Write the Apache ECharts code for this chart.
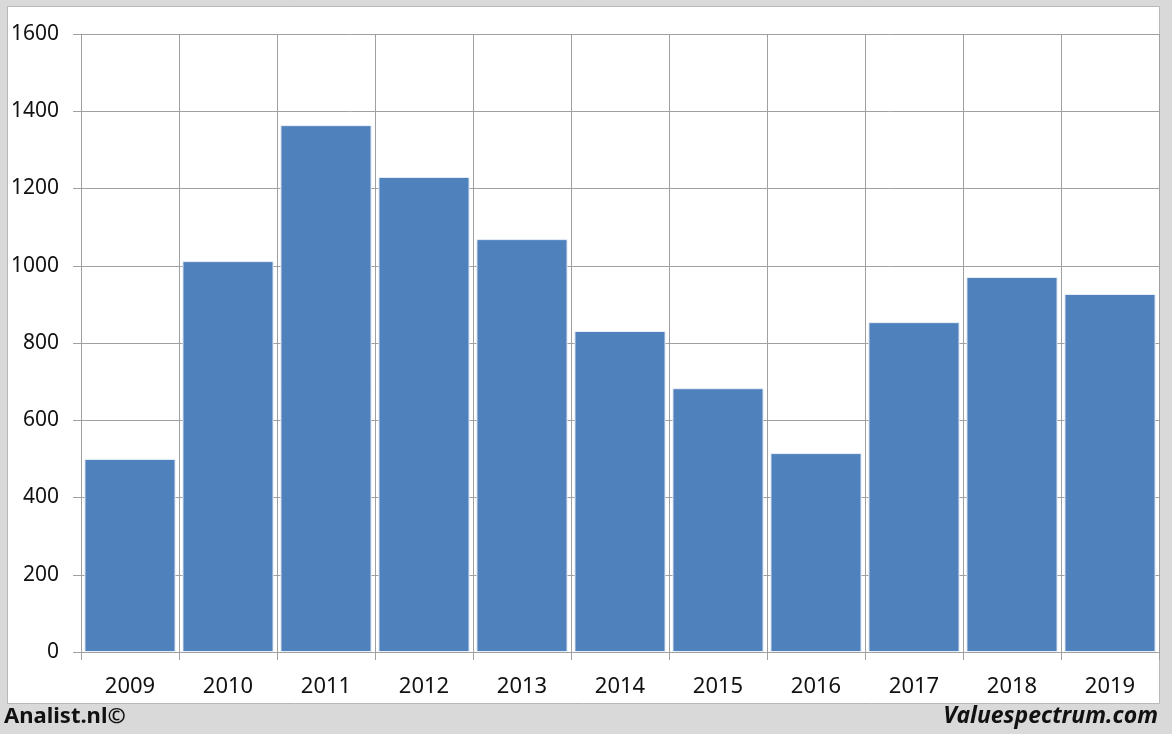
<!DOCTYPE html>
<html><head><meta charset="utf-8">
<script src="https://cdn.jsdelivr.net/npm/echarts@6/dist/echarts.min.js"></script>
<style>html,body{margin:0;padding:0;background:#d9d9d9;}#c{width:1172px;height:734px;}</style>
</head><body><div id="c"></div>
<script>
const categories = ['2009','2010','2011','2012','2013','2014','2015','2016','2017','2018','2019'];
const values = [500, 1012, 1364, 1230, 1069, 831, 683, 515, 854, 971, 927];
const yTicks = [0, 200, 400, 600, 800, 1000, 1200, 1400, 1600];

const chart = echarts.init(document.getElementById('c'), null, {renderer: 'canvas'});
const font = 'Noto Sans, DejaVu Sans, sans-serif';
chart.setOption({
  animation: false,
  backgroundColor: '#d9d9d9',
  graphic: [
    {type: 'rect', z: -10, shape: {x: 7.5, y: 6.5, width: 1152, height: 697}, style: {fill: '#ffffff', stroke: '#b8b8b8', lineWidth: 1}},
    {type: 'text', left: 4, top: 706, style: {text: 'Analist.nl©', font: 'bold 22px ' + font, fill: '#111'}},
    {type: 'text', right: 14, top: 705, style: {text: 'Valuespectrum.com', font: 'italic bold 23px ' + font, fill: '#111'}}
  ],
  grid: {left: 81, right: 13, top: 34, bottom: 82},
  xAxis: {
    type: 'category', data: categories,
    axisLine: {lineStyle: {color: '#a0a0a0', width: 1}},
    axisTick: {show: true, length: 8, lineStyle: {color: '#a0a0a0'}},
    axisLabel: {color: '#111', fontSize: 22, fontFamily: font, margin: 24},
    splitLine: {show: true, lineStyle: {color: '#a0a0a0', width: 1}}
  },
  yAxis: {
    type: 'value', min: 0, max: 1600, interval: 200,
    axisLine: {show: true, lineStyle: {color: '#a0a0a0', width: 1}},
    axisTick: {show: true, length: 8, lineStyle: {color: '#a0a0a0'}},
    axisLabel: {color: '#111', fontSize: 21, fontFamily: font, margin: 22,
      formatter: v => yTicks.includes(v) ? String(v) : ''},
    splitLine: {show: true, lineStyle: {color: '#a0a0a0', width: 1}}
  },
  series: [{
    type: 'bar', data: values, barCategoryGap: '7%',
    itemStyle: {color: '#4f81bd', borderColor: '#e8eef7', borderWidth: 1}
  }]
});
</script></body></html>
